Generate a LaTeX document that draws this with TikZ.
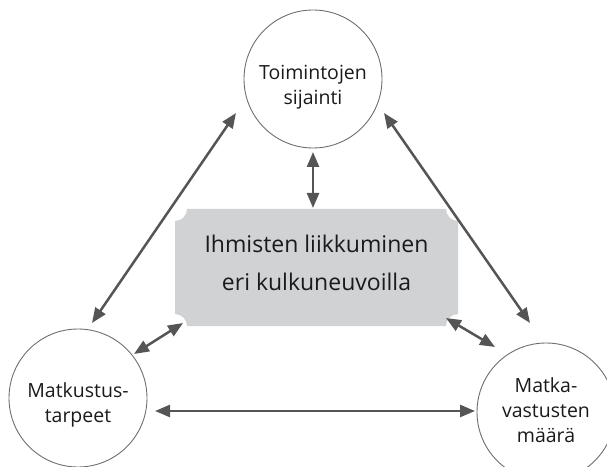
\documentclass[tikz,border=0pt]{standalone}
\usepackage{fontspec}
\setmainfont{Open Sans}
\usetikzlibrary{arrows.meta}
\definecolor{arrowgray}{HTML}{555555}
\definecolor{ringgray}{HTML}{6E6E6E}
\definecolor{boxgray}{HTML}{D1D2D4}
\definecolor{txt}{HTML}{1A1A1A}
\begin{document}
\begin{tikzpicture}[x=1pt,y=1pt,
  ring/.style={circle,draw=ringgray,line width=0.9pt,minimum size=138pt,inner sep=0pt},
  ringtext/.style={align=center,inner sep=0pt,font=\fontsize{19.5}{25}\selectfont,text=txt},
  link/.style={draw=arrowgray,line width=2.5pt,{Triangle[length=15pt,width=12pt]}-{Triangle[length=15pt,width=12pt]}}]
\useasboundingbox (0,0) rectangle (607,466);
% centre box with concave corners
\def\L{175}\def\R{458}\def\T{257}\def\B{140}\def\r{12}
\fill[boxgray] (\L+\r,\T) -- (\R-\r,\T) arc[start angle=180,end angle=270,radius=\r]
  -- (\R,\B+\r) arc[start angle=90,end angle=180,radius=\r]
  -- (\L+\r,\B) arc[start angle=0,end angle=90,radius=\r]
  -- (\L,\T-\r) arc[start angle=270,end angle=360,radius=\r] -- cycle;
\node[align=center,inner sep=0pt,font=\fontsize{23}{38}\selectfont,text=txt] (box) at (316.5,203) {Ihmisten liikkuminen\\eri kulkuneuvoilla};
% circles
\node[ring] (top) at (313,387) {};
\node[ring] (left) at (78,68) {};
\node[ring] (right) at (546,54) {};
\node[ringtext] (toptext) at (313,379) {Toimintojen\\sijainti};
\node[ringtext] (lefttext) at (78,61) {Matkustus-\\tarpeet};
\node[ringtext] (righttext) at (546,56) {Matka-\\vastusten\\määrä};
% arrow end points
\coordinate (tl1) at (236,353); \coordinate (tl2) at (92,143);
\coordinate (tr1) at (384,353); \coordinate (tr2) at (530,143);
\coordinate (v1) at (313,314);  \coordinate (v2) at (313,258);
\coordinate (bl1) at (183,143); \coordinate (bl2) at (134,112);
\coordinate (br1) at (446,148); \coordinate (br2) at (495,119);
\coordinate (h1) at (155,55);   \coordinate (h2) at (475,55);
\draw[link] (tl1) -- (tl2);
\draw[link] (tr1) -- (tr2);
\draw[link] (v1) -- (v2);
\draw[link] (bl1) -- (bl2);
\draw[link] (br1) -- (br2);
\draw[link] (h1) -- (h2);
\end{tikzpicture}
\end{document}
